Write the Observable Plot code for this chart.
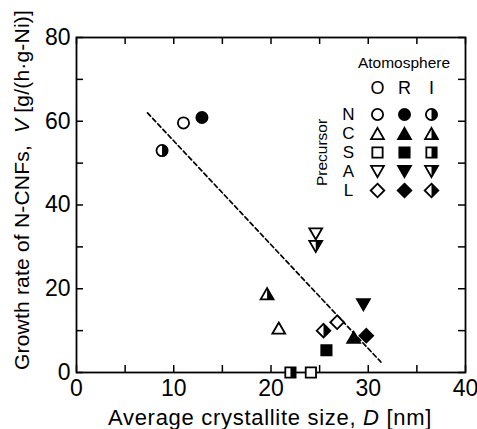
<!DOCTYPE html>
<html>
<head>
<meta charset="utf-8">
<script src="https://cdn.jsdelivr.net/npm/d3@7"></script>
<script src="https://cdn.jsdelivr.net/npm/@observablehq/plot@0.6"></script>
<style>
  html, body { margin: 0; padding: 0; background: #fff; }
  #wrap { position: relative; width: 477px; height: 429px; }
  #legend { position: absolute; left: 300px; top: 40px; }
</style>
</head>
<body>
<div id="wrap"><div id="main"></div><div id="legend"></div></div>
<script>
// ---- data ----
const atmospheres = ["O", "R", "I"];
const precursors = ["N", "C", "S", "A", "L"];
const pointPrecursor  = ["N", "N", "N", "C", "C", "C", "S", "S", "S", "A", "A", "A", "L", "L", "L"];
const pointAtmosphere = ["I", "O", "R", "O", "I", "R", "I", "O", "R", "O", "I", "R", "I", "O", "R"];
const crystalliteSize = [8.8, 11.0, 12.9, 20.8, 19.6, 28.5, 22.0, 24.1, 25.7, 24.6, 24.6, 29.5, 25.4, 26.8, 29.8];
const growthRate      = [53.0, 59.6, 60.9, 10.6, 18.8, 8.4, 0, 0, 5.3, 33.1, 30.1, 16.2, 10.0, 12.0, 8.8];
const fitD = [7.3, 31.3];
const fitV = [62.0, 2.5];
const xTicks = [0, 10, 20, 30, 40];
const xMinor = [5, 15, 25, 35];
const yTicks = [0, 20, 40, 60, 80];
const yMinor = [10, 30, 50, 70];
const xTitle = "Average crystallite size, D [nm]";
const yTitle = "Growth rate of N-CNFs,  V [g/(h\u00b7g-Ni)]";
const legendTitleX = "Atomosphere";
const legendTitleY = "Precursor";

// ---- symbols ----
const shapeOf = {N: "circle", C: "up", S: "square", A: "down", L: "diamond"};
function drawShape(c, shape, r, half) {
  if (shape === "circle") {
    if (half) { c.moveTo(0, -r); c.arc(0, 0, r, -Math.PI / 2, Math.PI / 2); c.closePath(); }
    else { c.moveTo(r, 0); c.arc(0, 0, r, 0, 2 * Math.PI); c.closePath(); }
  } else if (shape === "square") {
    const a = r * 0.92;
    if (half) c.rect(0, -a, a, 2 * a); else c.rect(-a, -a, 2 * a, 2 * a);
  } else if (shape === "up" || shape === "down") {
    const w = r * 1.15, h = r * 1.0, s = shape === "up" ? 1 : -1;
    if (half) { c.moveTo(0, -h * s); c.lineTo(w, h * s); c.lineTo(0, h * s); c.closePath(); }
    else { c.moveTo(0, -h * s); c.lineTo(w, h * s); c.lineTo(-w, h * s); c.closePath(); }
  } else if (shape === "diamond") {
    const d = r * 1.22;
    if (half) { c.moveTo(0, -d); c.lineTo(d, 0); c.lineTo(0, d); c.closePath(); }
    else { c.moveTo(0, -d); c.lineTo(d, 0); c.lineTo(0, d); c.lineTo(-d, 0); c.closePath(); }
  }
}
function makeSymbol(shape, half) {
  return {draw(ctx, size) { drawShape(ctx, shape, Math.sqrt(size / Math.PI), half); }};
}
const R = 5.6, SW = 1.8;
function symbolMarks(data, opts) {
  const marks = [];
  for (const d of data) {
    const shape = shapeOf[d.p];
    marks.push(Plot.dot([d], {...opts, r: R, symbol: makeSymbol(shape, false),
      fill: d.a === "R" ? "black" : "white", stroke: "black", strokeWidth: SW}));
    if (d.a === "I") {
      marks.push(Plot.dot([d], {...opts, r: R, symbol: makeSymbol(shape, true), fill: "black", stroke: "none"}));
    }
  }
  return marks;
}

const points = crystalliteSize.map((x, i) => ({x, y: growthRate[i], p: pointPrecursor[i], a: pointAtmosphere[i]}));
const fit = fitD.map((x, i) => ({x, y: fitV[i]}));

const W = 477, H = 429, mL = 76, mR = 12, mT = 37, mB = 57;
const fw = W - mL - mR, fh = H - mT - mB, TL = 7;
const font = "'Liberation Sans', Arial, Helvetica, sans-serif";

const chart = Plot.plot({
  width: W, height: H,
  marginLeft: mL, marginRight: mR, marginTop: mT, marginBottom: mB,
  style: {fontFamily: font, color: "#000", background: "white", overflow: "visible"},
  x: {domain: [0, 40]},
  y: {domain: [0, 80]},
  marks: [
    Plot.axisX(xTicks, {tickSize: 0, tickPadding: 7, fontSize: 23, label: null}),
    Plot.axisY(yTicks, {tickSize: 0, tickPadding: 6, fontSize: 23, label: null}),
    Plot.tickX([...xTicks, ...xMinor], {x: d => d, insetTop: fh - TL, stroke: "black", strokeWidth: 1.5}),
    Plot.tickX([...xTicks, ...xMinor], {x: d => d, insetBottom: fh - TL, stroke: "black", strokeWidth: 1.5}),
    Plot.tickY([...yTicks, ...yMinor], {y: d => d, insetRight: fw - TL, stroke: "black", strokeWidth: 1.5}),
    Plot.tickY([...yTicks, ...yMinor], {y: d => d, insetLeft: fw - TL, stroke: "black", strokeWidth: 1.5}),
    Plot.frame({stroke: "black", strokeWidth: 1.8}),
    Plot.line(fit, {x: "x", y: "y", stroke: "black", strokeWidth: 1.7, strokeDasharray: "4.5,3"}),
    ...symbolMarks(points, {x: "x", y: "y"}),
    Plot.text([xTitle], {text: d => d, frameAnchor: "bottom", textAnchor: "middle", lineAnchor: "middle", dy: 45, dx: -1, fontSize: 22, fill: "black"}),
    Plot.text([yTitle], {text: d => d, frameAnchor: "left", textAnchor: "middle", lineAnchor: "middle", rotate: -90, dx: -54, dy: -15, fontSize: 21, fill: "black"})
  ]
});
document.getElementById("main").appendChild(chart);

// ---- legend (own point scales over the category arrays) ----
const legendCells = [];
for (const p of precursors) for (const a of atmospheres) legendCells.push({p, a});
const LW = 160, LH = 170;
const legend = Plot.plot({
  width: LW, height: LH,
  marginLeft: 76, marginRight: 29, marginTop: 73, marginBottom: 19,
  style: {fontFamily: font, color: "#000", background: "transparent", overflow: "visible"},
  x: {type: "point", domain: atmospheres, padding: 0, axis: null},
  y: {type: "point", domain: precursors, padding: 0, axis: null},
  marks: [
    ...symbolMarks(legendCells, {x: "a", y: "p"}),
    Plot.text(atmospheres, {x: d => d, text: d => d, frameAnchor: "top", textAnchor: "middle", lineAnchor: "middle", dy: -25, fontSize: 18, fill: "black"}),
    Plot.text(precursors, {y: d => d, text: d => d, frameAnchor: "left", textAnchor: "middle", lineAnchor: "middle", dx: -28, fontSize: 17, fill: "black"}),
    Plot.text([legendTitleX], {text: d => d, frameAnchor: "top", textAnchor: "middle", lineAnchor: "middle", dy: -50, fontSize: 15.5, fill: "black"}),
    Plot.text([legendTitleY], {text: d => d, frameAnchor: "left", textAnchor: "middle", lineAnchor: "middle", rotate: -90, dx: -54, fontSize: 15.5, fill: "black"})
  ]
});
document.getElementById("legend").appendChild(legend);

// italic variable letters in the axis titles, and the wide letter spacing of the original
function italicize(svg, full, letter, spacing) {
  for (const t of svg.querySelectorAll("text")) {
    if (t.textContent === full) {
      const i = full.indexOf(letter + " [");
      const parts = [[full.slice(0, i), false], [letter, true], [full.slice(i + 1), false]];
      t.textContent = "";
      t.setAttribute("letter-spacing", spacing);
      for (const [s, it] of parts) {
        const ts = document.createElementNS("http://www.w3.org/2000/svg", "tspan");
        ts.textContent = s;
        if (it) ts.setAttribute("font-style", "italic");
        t.appendChild(ts);
      }
    }
  }
}
italicize(chart, xTitle, "D", "0.7");
italicize(chart, yTitle, "V", "0.2");
</script>
</body>
</html>
